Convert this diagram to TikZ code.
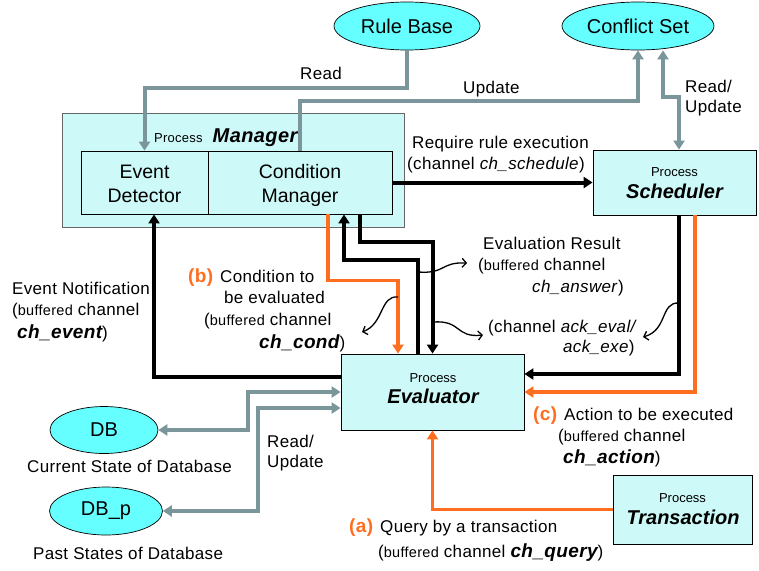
\documentclass[tikz,border=0pt]{standalone}
\usepackage{fontspec}
\setmainfont{Liberation Sans}
\usetikzlibrary{arrows.meta,shapes.geometric}
\definecolor{ellfill}{RGB}{102,255,255}
\definecolor{boxfill}{RGB}{205,250,248}
\definecolor{grayc}{RGB}{122,150,155}
\definecolor{orangec}{RGB}{255,110,32}
\newcommand{\lblfont}{\fontsize{17}{20}\selectfont\addfontfeature{LetterSpace=2}}
\newcommand{\buf}{{\fontsize{14.5}{17}\selectfont buffered}}
\newcommand{\chb}[1]{{\fontsize{19}{21}\selectfont\bfseries\itshape #1}}
\newcommand{\procf}{\fontsize{13}{15}\selectfont}
\newcommand{\namef}{\fontsize{20}{22}\selectfont\bfseries\itshape}
\newcommand{\boxf}{\fontsize{19.5}{22}\selectfont}
\newcommand{\ellf}{\fontsize{20}{22}\selectfont}
\newcommand{\tagf}[1]{{\fontsize{19}{21}\selectfont\bfseries\color{orangec}#1}}
\begin{document}
\begin{tikzpicture}[x=1pt,y=-1pt,
  ellnode/.style={ellipse, draw=black, line width=0.7pt, fill=ellfill, inner sep=0pt, font=\ellf},
  boxnode/.style={rectangle, draw=black, line width=0.8pt, fill=boxfill, inner sep=0pt},
  outerbox/.style={rectangle, draw=black!60, line width=1pt, fill=boxfill, inner sep=0pt},
  lbl/.style={inner sep=0pt, anchor=base west, font=\lblfont},
  ctxt/.style={inner sep=0pt, anchor=base},
  tipA/.tip={Triangle[length=9pt,width=11pt]},
  grayline/.style={draw=grayc, line width=4pt, -tipA},
  graydbl/.style={draw=grayc, line width=4pt, tipA-tipA},
  blackline/.style={draw=black, line width=4pt, -tipA},
  orangeline/.style={draw=orangec, line width=3.5pt, -tipA},
  pointer/.style={draw=black, line width=1.3pt, -{Straight Barb[length=4pt,width=9pt]}}
]
\useasboundingbox (0,0) rectangle (759,570);

% ellipses
\node[ellnode, minimum width=146pt, minimum height=48pt] (rb) at (407,26) {Rule Base};
\node[ellnode, minimum width=152pt, minimum height=48pt] (cs) at (638,26) {Conflict Set};
\node[ellnode, minimum width=108pt, minimum height=47pt] (db) at (104,430) {DB};
\node[ellnode, minimum width=113pt, minimum height=48pt] (dbp) at (106,511) {DB\_p};

% boxes
\node[outerbox, minimum width=342pt, minimum height=114pt] (mgr) at (233,170) {};
\node[boxnode, minimum width=127pt, minimum height=63pt] (ed) at (144.5,182.5) {};
\node[boxnode, minimum width=184pt, minimum height=63pt] (cm) at (300,182.5) {};
\node[boxnode, minimum width=163pt, minimum height=65pt] (sc) at (674.5,182.5) {};
\node[boxnode, minimum width=183pt, minimum height=76pt] (ev) at (432.5,392) {};
\node[boxnode, minimum width=139pt, minimum height=69pt] (tr) at (682.5,509.5) {};

% box texts
\node[lbl] (mgrt) at (154,142) {{\procf Process}\hspace{10pt}{\namef Manager}};
\node[ctxt, font=\boxf] (edt1) at (144.5,178) {Event};
\node[ctxt, font=\boxf] (edt2) at (144.5,202) {Detector};
\node[ctxt, font=\boxf] (cmt1) at (300,178) {Condition};
\node[ctxt, font=\boxf] (cmt2) at (300,202) {Manager};
\node[ctxt, font=\procf] (sct1) at (674.5,176) {Process};
\node[ctxt, font=\namef] (sct2) at (674.5,198) {Scheduler};
\node[ctxt, font=\procf] (evt1) at (433,382) {Process};
\node[ctxt, font=\namef] (evt2) at (433,403) {Evaluator};
\node[ctxt, font=\procf] (trt1) at (682.5,502) {Process};
\node[ctxt, font=\namef] (trt2) at (683,524) {Transaction};

% gray connectors
\draw[grayline] (rb.south) -- ++(0,38) -| (ed.north);
\draw[grayline] (cm.north) -- ++(0,-50) -| (cs.south);
\draw[graydbl] ([xshift=4.5pt]sc.north) -- ++(0,-53) -| ([xshift=25pt]cs.south);
\draw[graydbl] (db.east) -- ++(90,0) |- (ev.west);
\draw[graydbl] (dbp.east) -- ++(95,0) |- ([yshift=-16pt]ev.west);

% black connectors
\draw[blackline] (cm.east) -- (sc.west);
\draw[blackline] ([yshift=15pt]ev.west) -| ([xshift=9.5pt]ed.south);
\draw[blackline] ([xshift=-14.5pt]ev.north) -- ++(0,-94) -| ([xshift=44pt]cm.south);
\draw[blackline] ([xshift=60pt]cm.south) -- ++(0,28) -| (ev.north);
\draw[blackline] ([xshift=4.5pt]sc.south) |- ([yshift=18pt]ev.east);

% orange connectors
\draw[orangeline] ([xshift=28pt]cm.south) -- ++(0,66) -| ([xshift=-34.5pt]ev.north);
\draw[orangeline] ([xshift=20.5pt]sc.south) |- (ev.east);
\draw[orangeline] (tr.west) -| (ev.south);

% pointers
\coordinate (pbS) at (398,297);
\coordinate (pbE) at (362,332);
\coordinate (peS) at (418,272);
\coordinate (peE) at (467,263);
\coordinate (paS) at (433,322);
\coordinate (paE) at (483,335);
\coordinate (psS) at (679,303);
\coordinate (psE) at (643,337);
\draw[pointer] (pbS) .. controls (380,295) and (384,324) .. (pbE);
\draw[pointer] (peS) .. controls (446,274) and (440,262) .. (peE);
\draw[pointer] (paS) .. controls (462,320) and (455,338) .. (paE);
\draw[pointer] (psS) .. controls (660,302) and (668,330) .. (psE);

% labels
\node[lbl] (l1) at (300,79) {Read};
\node[lbl] (l2) at (463,93) {Update};
\node[lbl] (l3) at (685,92) {Read/};
\node[lbl] (l4) at (685,112) {Update};
\node[lbl] (l5) at (412,148) {Require rule execution};
\node[lbl] (l6) at (407,169) {(channel \textit{ch\_schedule})};

\node[lbl] (l7) at (12,294) {Event Notification};
\node[lbl] (l8) at (12,315) {(\buf{} channel};
\node[lbl] (l9) at (17,338) {\chb{ch\_event})};

\node[lbl] (l10) at (188,282) {\tagf{(b)}\hspace{7pt}Condition to};
\node[lbl] (l11) at (224,303) {be evaluated};
\node[lbl] (l12) at (204,325) {(\buf{} channel};
\node[lbl] (l13) at (259,348) {\chb{ch\_cond})};

\node[lbl] (l14) at (483,249) {Evaluation Result};
\node[lbl] (l15) at (478,270) {(\buf{} channel};
\node[lbl] (l16) at (532,292) {\textit{ch\_answer})};

\node[lbl] (l17) at (488,332) {(channel \textit{ack\_eval/}};
\node[lbl] (l18) at (563,352) {\textit{ack\_exe})};

\node[lbl] (l19) at (533,420) {\tagf{(c)}\hspace{7pt}Action to be executed};
\node[lbl] (l20) at (558,441) {(\buf{} channel};
\node[lbl] (l21) at (563,463) {\chb{ch\_action})};

\node[lbl] (l22) at (349,532) {\tagf{(a)}\hspace{7pt}Query by a transaction};
\node[lbl] (l23) at (378,557) {(\buf{} channel \chb{ch\_query})};

\node[lbl] (l24) at (27,472) {Current State of Database};
\node[lbl] (l25) at (33,559) {Past States of Database};
\node[lbl] (l26) at (267,447) {Read/};
\node[lbl] (l27) at (267,467) {Update};
\end{tikzpicture}
\end{document}
